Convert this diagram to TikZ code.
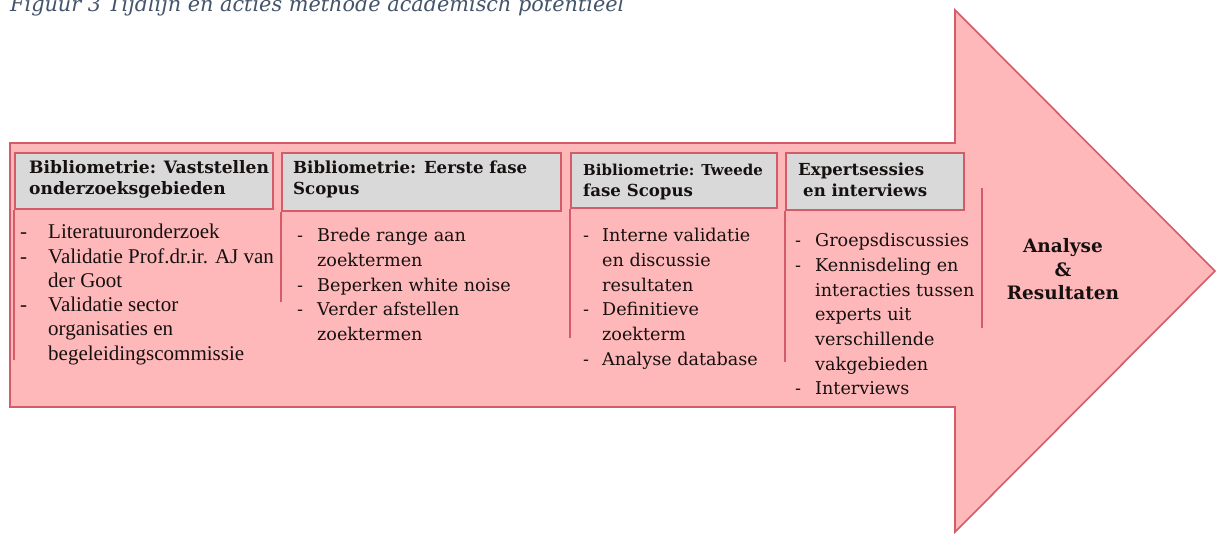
\documentclass[tikz,border=0pt]{standalone}
\usepackage{fontspec}
\setmainfont{DejaVu Serif}
\newfontfamily\tnr{Liberation Serif}
\definecolor{pinkfill}{RGB}{255,184,186}
\definecolor{redline}{RGB}{212,92,104}
\definecolor{hdrgray}{RGB}{217,217,217}
\definecolor{capblue}{RGB}{68,84,106}
\definecolor{txt}{RGB}{22,16,16}
\begin{document}
\begin{tikzpicture}[x=1pt,y=-1pt,
  hdr/.style={draw=redline, line width=1.8pt, fill=hdrgray, anchor=north west, inner sep=0pt},
  hdrtext/.style={anchor=base west, inner sep=0pt, text=txt, font=\bfseries\fontsize{16.6}{20}\selectfont},
  body/.style={anchor=base west, inner sep=0pt, text=txt, font=\fontsize{17.6}{20}\selectfont},
  tnrbody/.style={anchor=base west, inner sep=0pt, text=txt, font=\tnr\fontsize{21}{24}\selectfont},
  bodyline/.style={draw=redline, line width=1.5pt},
  final/.style={anchor=base, inner sep=0pt, text=txt, font=\bfseries\fontsize{18.5}{22}\selectfont}
]
\useasboundingbox (0,0) rectangle (1217,534);
\fill[white] (0,0) rectangle (1217,534);
% caption (top cut off)
\node[anchor=base west, inner sep=0pt, text=capblue, font=\itshape\fontsize{20.8}{24}\selectfont] (cap) at (10,11.5) {Figuur 3 Tijdlijn en acties methode academisch potentieel};
% big arrow
\draw[redline, line width=1.6pt, fill=pinkfill, line join=miter]
  (10,143) -- (955,143) -- (955,10) -- (1215,271) -- (955,532) -- (955,407) -- (10,407) -- cycle;
% headers
\node[hdr, minimum width=258pt, minimum height=56pt] (h1) at (14,152) {};
\node[hdr, minimum width=279pt, minimum height=58pt] (h2) at (281,152) {};
\node[hdr, minimum width=206pt, minimum height=55pt] (h3) at (570,152) {};
\node[hdr, minimum width=178pt, minimum height=57pt] (h4) at (785,152) {};
\node[hdrtext, font=\bfseries\fontsize{17.1}{20}\selectfont] (t1a) at (29,174) {Bibliometrie: Vaststellen};
\node[hdrtext, font=\bfseries\fontsize{17.1}{20}\selectfont] (t1b) at (29,195) {onderzoeksgebieden};
\node[hdrtext] (t2a) at (293,174) {Bibliometrie: Eerste fase};
\node[hdrtext] (t2b) at (293,195) {Scopus};
\node[hdrtext, font=\bfseries\fontsize{15}{18}\selectfont] (t3a) at (583,176) {Bibliometrie: Tweede};
\node[hdrtext] (t3b) at (583,197) {fase Scopus};
\node[hdrtext] (t4a) at (798,176) {Expertsessies};
\node[hdrtext] (t4b) at (803,197) {en interviews};
% body lines
\coordinate (e1) at (14,360);
\coordinate (e2) at (281,302);
\coordinate (e3) at (570,338);
\coordinate (e4) at (785,362);
\coordinate (s1) at (982,188);
\coordinate (s2) at (982,328);
\draw[bodyline] (h1.south west) -- (e1);
\draw[bodyline] (h2.south west) -- (e2);
\draw[bodyline] (h3.south west) -- (e3);
\draw[bodyline] (h4.south west) -- (e4);
\draw[bodyline] (s1) -- (s2);
% box 1 body
\foreach \t [count=\i from 0] in {Literatuuronderzoek, Validatie Prof.dr.ir. AJ van, der Goot, Validatie sector, organisaties en, begeleidingscommissie}
  \node[tnrbody] (a\i) at (48,239+24.2*\i) {\t};
\foreach \j in {0,1,3}
  \node[tnrbody] (da\j) at (20,239+24.2*\j) {-};
% box 2 body
\foreach \t [count=\i from 0] in {Brede range aan, zoektermen, Beperken white noise, Verder afstellen, zoektermen}
  \node[body] (b\i) at (317,242+24.6*\i) {\t};
\foreach \j in {0,2,3}
  \node[body] (db\j) at (297,242+24.6*\j) {-};
% box 3 body
\foreach \t [count=\i from 0] in {Interne validatie, en discussie, resultaten, Definitieve, zoekterm, Analyse database}
  \node[body] (c\i) at (602,242+24.6*\i) {\t};
\foreach \j in {0,3,5}
  \node[body] (dc\j) at (583,242+24.6*\j) {-};
% box 4 body
\foreach \t [count=\i from 0] in {Groepsdiscussies, Kennisdeling en, interacties tussen, experts uit, verschillende, vakgebieden, Interviews}
  \node[body] (g\i) at (815,247+24.6*\i) {\t};
\foreach \j in {0,1,6}
  \node[body] (dg\j) at (795,247+24.6*\j) {-};
% final
\node[final] (f1) at (1063,253) {Analyse};
\node[final] (f2) at (1063,277) {\&};
\node[final] (f3) at (1063,300) {Resultaten};
\end{tikzpicture}
\end{document}
